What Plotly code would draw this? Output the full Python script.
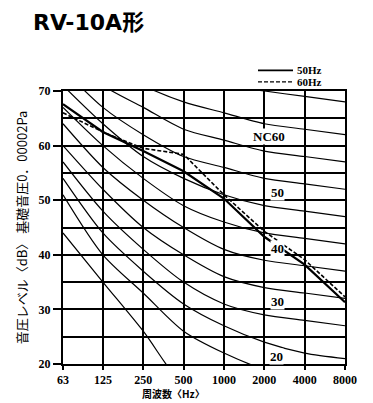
import math
import plotly.graph_objects as go

# ---- data ----
freqs = [63, 125, 250, 500, 1000, 2000, 4000, 8000]
freq_labels = ["63", "125", "250", "500", "1000", "2000", "4000", "8000"]

nc_curves = {
    "NC15": [44, 35, 26, 16, 12, 10, 9, 8],
    "NC20": [51, 40, 33, 26, 22, 19, 17, 16],
    "NC25": [54, 44, 37, 31, 27, 24, 22, 21],
    "NC30": [57, 48, 41, 35, 31, 29, 28, 27],
    "NC35": [60, 52, 45, 40, 36, 34, 33, 32],
    "NC40": [64, 56, 50, 45, 41, 39, 38, 37],
    "NC45": [67, 60, 54, 49, 46, 44, 43, 42],
    "NC50": [71, 64, 58, 54, 51, 49, 48, 47],
    "NC55": [74, 67, 62, 58, 56, 54, 53, 52],
    "NC60": [77, 71, 67, 63, 61, 59, 58, 57],
    "NC65": [80, 75, 71, 68, 66, 64, 63, 62],
    "NC70": [83, 79, 75, 72, 71, 70, 69, 68],
}

spl_50hz = [67.6, 62.5, 59.0, 55.3, 50.3, 43.3, 38.2, 31.3]
spl_60hz = [66.0, 62.5, 59.5, 58.4, 51.0, 44.3, 39.1, 32.3]

series_names = ["50Hz", "60Hz"]

nc_label_text = ["NC60", "50", "40", "30", "20"]
nc_label_freq = [2160, 2520, 2520, 2520, 2480]
nc_label_db = [61.6, 51.4, 41.2, 31.4, 21.4]

y_ticks = [20, 30, 40, 50, 60, 70]

W, H = 373, 403
ML, MR, MT, MB = 63, 28, 91, 39
PW, PH = W - ML - MR, H - MT - MB


def px_x(px):
    return (px - ML) / PW


def px_y(py):
    return (H - MB - py) / PH


fig = go.Figure()

for name, vals in nc_curves.items():
    fig.add_trace(go.Scatter(
        x=freqs, y=vals, mode="lines", showlegend=False, hoverinfo="skip",
        line=dict(color="black", width=1.2, shape="spline", smoothing=0.8),
    ))

line_styles = [dict(color="black", width=2.2), dict(color="black", width=1.6, dash="4px,2px")]
for name, vals, ls in zip(series_names, [spl_50hz, spl_60hz], line_styles):
    fig.add_trace(go.Scatter(
        x=freqs, y=vals, mode="lines", name=name, showlegend=False, line=ls,
    ))

for t, f, d in zip(nc_label_text, nc_label_freq, nc_label_db):
    fig.add_annotation(
        x=math.log10(f), y=d, text=t, showarrow=False, xref="x", yref="y",
        font=dict(family="Liberation Serif", size=13, color="black", weight="bold"),
        bgcolor="white", borderpad=0,
    )

fig.add_annotation(
    x=px_x(173), y=px_y(393), xref="paper", yref="paper",
    text="周波数〈Hz〉", showarrow=False, yanchor="middle",
    font=dict(family="Noto Sans CJK JP", size=10, color="black", weight="bold"),
)

# legend (drawn manually)
for i, (name, ls) in enumerate(zip(series_names, line_styles)):
    ypx = 70.3 + 11.5 * i
    fig.add_shape(type="line", xref="paper", yref="paper",
                  x0=px_x(258), x1=px_x(293), y0=px_y(ypx), y1=px_y(ypx),
                  line=dict(color="black", width=ls["width"] * 0.75, dash=ls.get("dash", "solid")))
    fig.add_annotation(
        x=px_x(295), y=px_y(ypx), xref="paper", yref="paper", text=name,
        showarrow=False, xanchor="left", yanchor="middle",
        font=dict(family="Liberation Serif", size=11, color="black", weight="bold"),
    )

fig.update_layout(
    width=W, height=H,
    margin=dict(l=ML, r=MR, t=MT, b=MB),
    paper_bgcolor="white", plot_bgcolor="white",
    showlegend=False,
    title=dict(
        text="<b>RV-10A形</b>", x=33 / W, xanchor="left", xref="container",
        y=1 - 22 / H, yanchor="middle", yref="container",
        font=dict(family="DejaVu Sans, Noto Sans CJK JP", size=22, color="black"),
    ),
    xaxis=dict(
        type="log", range=[math.log10(63), math.log10(8000)],
        tickvals=freqs, ticktext=freq_labels, tickangle=0,
        ticks="outside", ticklen=4, tickwidth=1.5, tickcolor="black",
        showgrid=True, gridcolor="black", gridwidth=1.6,
        showline=True, linecolor="black", linewidth=2, mirror=True,
        tickfont=dict(family="Liberation Serif", size=12, color="black", weight="bold"),
        zeroline=False,
    ),
    yaxis=dict(
        range=[20, 70], tickvals=y_ticks,
        ticks="outside", ticklen=8, tickwidth=1.5, tickcolor="black",
        showgrid=True, gridcolor="black", gridwidth=1.6,
        minor=dict(dtick=5, showgrid=True, gridcolor="black", gridwidth=1.6, ticks=""),
        showline=True, linecolor="black", linewidth=2, mirror=True,
        tickfont=dict(family="Liberation Serif", size=12, color="black", weight="bold"),
        title=dict(text="音圧レベル〈dB〉 基礎音圧0．00002Pa", standoff=8,
                   font=dict(family="Noto Sans CJK JP", size=13, color="black")),
        zeroline=False,
    ),
)

fig.write_html("out.html", config={"displayModeBar": False},
               post_script="document.body.style.margin='0';")
